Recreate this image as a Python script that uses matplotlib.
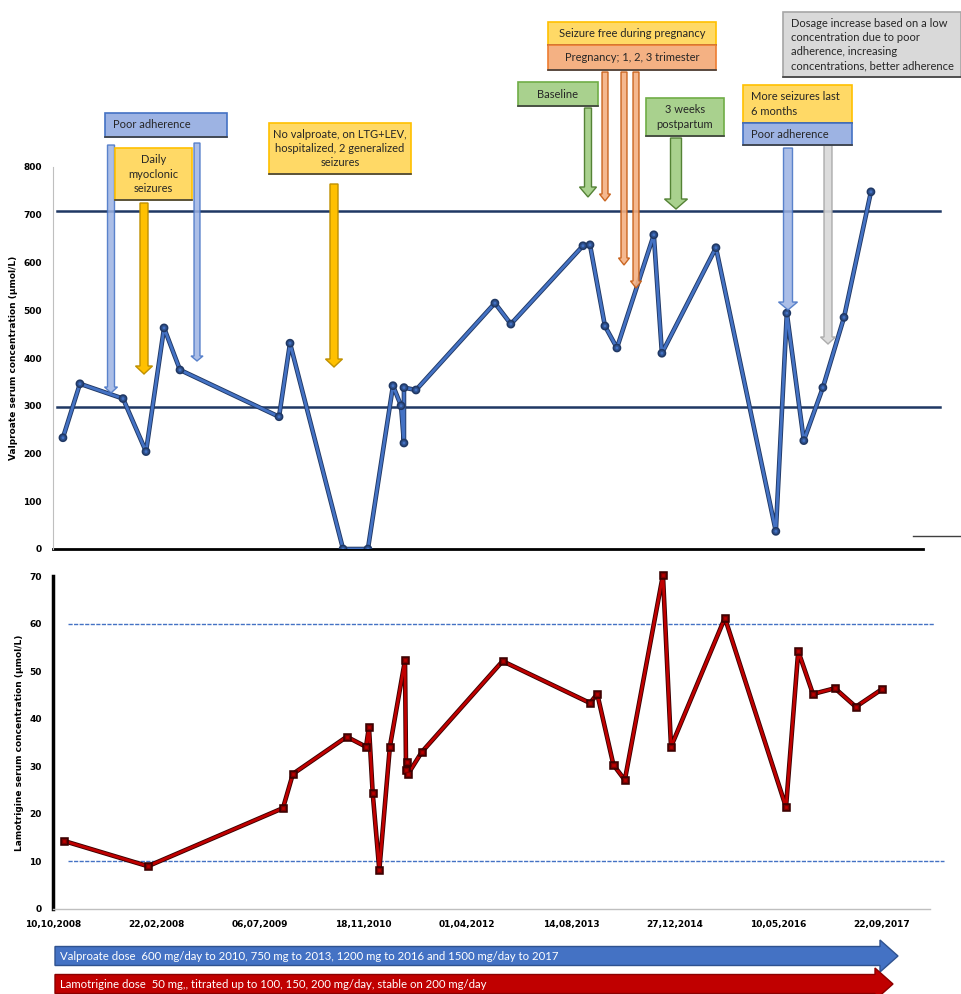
import matplotlib
matplotlib.use('Agg')
import matplotlib.pyplot as plt
import matplotlib.patheffects as pe
from matplotlib.patches import Rectangle, FancyArrow
import numpy as np

# days counted from the first x tick
tick_labels = ['10,10,2008', '22,02,2008', '06,07,2009', '18,11,2010', '01,04,2012',
               '14,08,2013', '27,12,2014', '10,05,2016', '22,09,2017']
tick_days = [0, 500, 1000, 1500, 2000, 2500, 3000, 3500, 4000]

# valproate serum concentration (umol/L)
vpa_day = [48, 130, 338, 449, 536, 613, 1091, 1144, 1400, 1520, 1641, 1680, 1694, 1694,
           1752, 2133, 2210, 2558, 2592, 2664, 2722, 2900, 2939, 3200, 3489, 3542, 3624,
           3716, 3818, 3948]
vpa_conc = [233, 346, 315, 204, 463, 375, 277, 431, 0, 0, 342, 300, 222, 338,
            333, 515, 471, 635, 637, 467, 421, 658, 410, 631, 37, 494, 227,
            338, 485, 748]
vpa_ref = [297, 707]

# lamotrigine serum concentration (umol/L)
ltg_day = [53, 458, 1110, 1158, 1418, 1511, 1525, 1543, 1575, 1626, 1699, 1704, 1709, 1714,
           1780, 2170, 2592, 2627, 2705, 2760, 2944, 2983, 3243, 3538, 3597, 3668, 3774,
           3875, 4001]
ltg_conc = [14.3, 9.0, 21.2, 28.4, 36.2, 34.1, 38.3, 24.4, 8.2, 34.1, 52.3, 29.2, 30.9, 28.4,
            33.0, 52.1, 43.3, 45.2, 30.3, 27.1, 70.2, 34.1, 61.2, 21.4, 54.2, 45.2, 46.4,
            42.5, 46.2]
ltg_ref = [10, 60]

W, H = 961, 994
fig = plt.figure(figsize=(W / 100, H / 100), dpi=100)
plt.rcParams['font.family'] = ['Lato', 'DejaVu Sans']

def fx(px):
    return px / W

def fy(py):
    return 1 - py / H

# ---- top panel: valproate
ax1 = fig.add_axes([fx(53), fy(549), fx(913 - 53), (549 - 167) / H])
ax1.set_xlim(0, 4151)
ax1.set_ylim(0, 800)
for v in vpa_ref:
    ax1.plot([20, 4282], [v, v], color='#1F3864', lw=1.8, clip_on=False, zorder=1)
ax1.plot([0, 4200], [0, 0], color='black', lw=2, clip_on=False, zorder=1)
ax1.plot(vpa_day, vpa_conc, color='#4472C4', lw=2, marker='o', ms=3,
         mfc='#4472C4', mec='#2F528F', zorder=3,
         path_effects=[pe.Stroke(linewidth=3.3, foreground='#203864'), pe.Normal()])
ax1.set_xticks([])
ax1.set_yticks(range(0, 801, 100))
ax1.tick_params(axis='y', length=0, labelsize=6.5, pad=8)
for lab in ax1.get_yticklabels():
    lab.set_fontweight('bold')
    lab.set_family('DejaVu Sans')
for s in ['top', 'right', 'bottom']:
    ax1.spines[s].set_visible(False)
ax1.spines['left'].set_color('#BFBFBF')
ax1.spines['left'].set_linewidth(0.8)
ax1.set_ylabel('Valproate serum concentration (µmol/L)', fontsize=6.5,
               fontweight='bold', family='DejaVu Sans', labelpad=4)
ax1.patch.set_alpha(0)

# ---- bottom panel: lamotrigine
ax2 = fig.add_axes([fx(53), fy(909), fx(930 - 53), (909 - 576) / H])
ax2.set_xlim(0, 4233)
ax2.set_ylim(0, 70)
ax2.plot([70, 4300], [ltg_ref[0], ltg_ref[0]], color='#4472C4', lw=1, ls=(0, (3, 1)),
         clip_on=False, zorder=1)
ax2.plot([70, 4250], [ltg_ref[1], ltg_ref[1]], color='#4472C4', lw=1, ls=(0, (3, 1)),
         clip_on=False, zorder=1)
ax2.plot(ltg_day, ltg_conc, color='#C00000', lw=2, marker='s', ms=3,
         mfc='#C00000', mec='#7F0000', zorder=3, clip_on=False,
         path_effects=[pe.Stroke(linewidth=3.3, foreground='#3A0000'), pe.Normal()])
ax2.set_xticks(tick_days)
ax2.set_xticklabels(tick_labels)
ax2.set_yticks(range(0, 71, 10))
ax2.tick_params(length=0, labelsize=6.5)
ax2.tick_params(axis='x', pad=8)
ax2.tick_params(axis='y', pad=8)
for lab in ax2.get_xticklabels() + ax2.get_yticklabels():
    lab.set_fontweight('bold')
    lab.set_family('DejaVu Sans')
for s in ['top', 'right']:
    ax2.spines[s].set_visible(False)
ax2.spines['left'].set_color('black')
ax2.spines['left'].set_linewidth(2.5)
ax2.spines['bottom'].set_color('#BFBFBF')
ax2.spines['bottom'].set_linewidth(1)
ax2.set_ylabel('Lamotrigine serum concentration (µmol/L)', fontsize=6.5,
               fontweight='bold', family='DejaVu Sans', labelpad=4)
ax2.patch.set_alpha(0)

# ---- overlay in pixel units for the boxes and arrows
ov = fig.add_axes([0, 0, 1, 1])
ov.set_xlim(0, W)
ov.set_ylim(H, 0)
ov.axis('off')

def box(x0, y0, x1, y1, text, fc, ec, ha='center'):
    ov.add_patch(Rectangle((x0, y0), x1 - x0, y1 - y0, fc=fc, ec=ec, lw=1.2, zorder=5))
    ov.plot([x0, x1], [y1, y1], color='#404040', lw=1.2, zorder=5)
    tx = (x0 + x1) / 2 if ha == 'center' else x0 + 8
    ov.text(tx, (y0 + y1) / 2, text, ha=ha, va='center', fontsize=8,
            color='#262626', linespacing=1.35, zorder=6)

def arrow(x, y0, y1, w, hw, hl, fc, ec, alpha=1.0):
    ov.add_patch(FancyArrow(x, y0, 0, y1 - y0, width=w, head_width=hw, head_length=hl,
                            length_includes_head=True, fc=fc, ec=ec, lw=1,
                            alpha=alpha, zorder=4))

blue_fc, blue_ec = '#9DB3E3', '#4472C4'
yel_fc, yel_ec = '#FFD966', '#FFC000'
org_fc, org_ec = '#F4B183', '#ED7D31'
grn_fc, grn_ec = '#A9D18E', '#70AD47'
gry_fc, gry_ec = '#D9D9D9', '#A6A6A6'

arrow(111, 145, 393, 7, 13, 6, blue_fc, blue_ec, 0.85)
arrow(197, 143, 361, 6, 12, 5, blue_fc, blue_ec, 0.85)
arrow(144, 203, 374, 8, 17, 8, '#FFC000', '#BF9000')
arrow(334, 184, 367, 8, 17, 8, '#FFC000', '#BF9000')
arrow(588, 108, 197, 7, 17, 10, grn_fc, '#548235')
arrow(605, 72, 201, 6, 11, 7, org_fc, '#C55A11', 0.9)
arrow(624, 72, 265, 6, 11, 7, org_fc, '#C55A11', 0.9)
arrow(636, 72, 288, 6, 11, 7, org_fc, '#C55A11', 0.9)
arrow(676, 138, 209, 11, 23, 10, grn_fc, '#548235')
arrow(788, 148, 310, 9, 19, 8, blue_fc, blue_ec, 0.85)
arrow(828, 145, 344, 8, 15, 7, gry_fc, gry_ec, 0.9)

box(105, 113, 227, 137, 'Poor adherence', blue_fc, blue_ec, ha='left')
box(115, 148, 192, 200, 'Daily\nmyoclonic\nseizures', yel_fc, yel_ec)
box(269, 123, 411, 174, 'No valproate, on LTG+LEV,\nhospitalized, 2 generalized\nseizures',
    yel_fc, yel_ec)
box(548, 22, 716, 45, 'Seizure free during pregnancy', yel_fc, yel_ec)
box(548, 45, 716, 70, 'Pregnancy; 1, 2, 3 trimester', org_fc, org_ec)
box(518, 82, 598, 106, 'Baseline', grn_fc, grn_ec)
box(646, 98, 724, 136, '3 weeks\npostpartum', grn_fc, grn_ec)
box(743, 85, 852, 123, 'More seizures last\n6 months', yel_fc, yel_ec, ha='left')
box(743, 123, 852, 145, 'Poor adherence', blue_fc, blue_ec, ha='left')
box(783, 12, 961, 77, 'Dosage increase based on a low\nconcentration due to poor\n'
    'adherence, increasing\nconcentrations, better adherence', gry_fc, gry_ec, ha='left')

# stray line at right edge of top panel
ov.plot([913, 961], [536, 536], color='#404040', lw=1)

# dose arrows at the bottom
ov.add_patch(FancyArrow(55, 956, 843, 0, width=19, head_width=32, head_length=18,
                        length_includes_head=True, fc='#4472C4', ec='#2F528F', lw=1))
ov.text(60, 956, 'Valproate dose  600 mg/day to 2010, 750 mg to 2013, 1200 mg to 2016 '
        'and 1500 mg/day to 2017', color='white', fontsize=8.2, va='center')
ov.add_patch(FancyArrow(55, 984, 838, 0, width=19, head_width=32, head_length=18,
                        length_includes_head=True, fc='#C00000', ec='#8B0000', lw=1))
ov.text(60, 984, 'Lamotrigine dose  50 mg,, titrated up to 100, 150, 200 mg/day, '
        'stable on 200 mg/day', color='white', fontsize=8.2, va='center')

fig.savefig('out.png', dpi=100)
